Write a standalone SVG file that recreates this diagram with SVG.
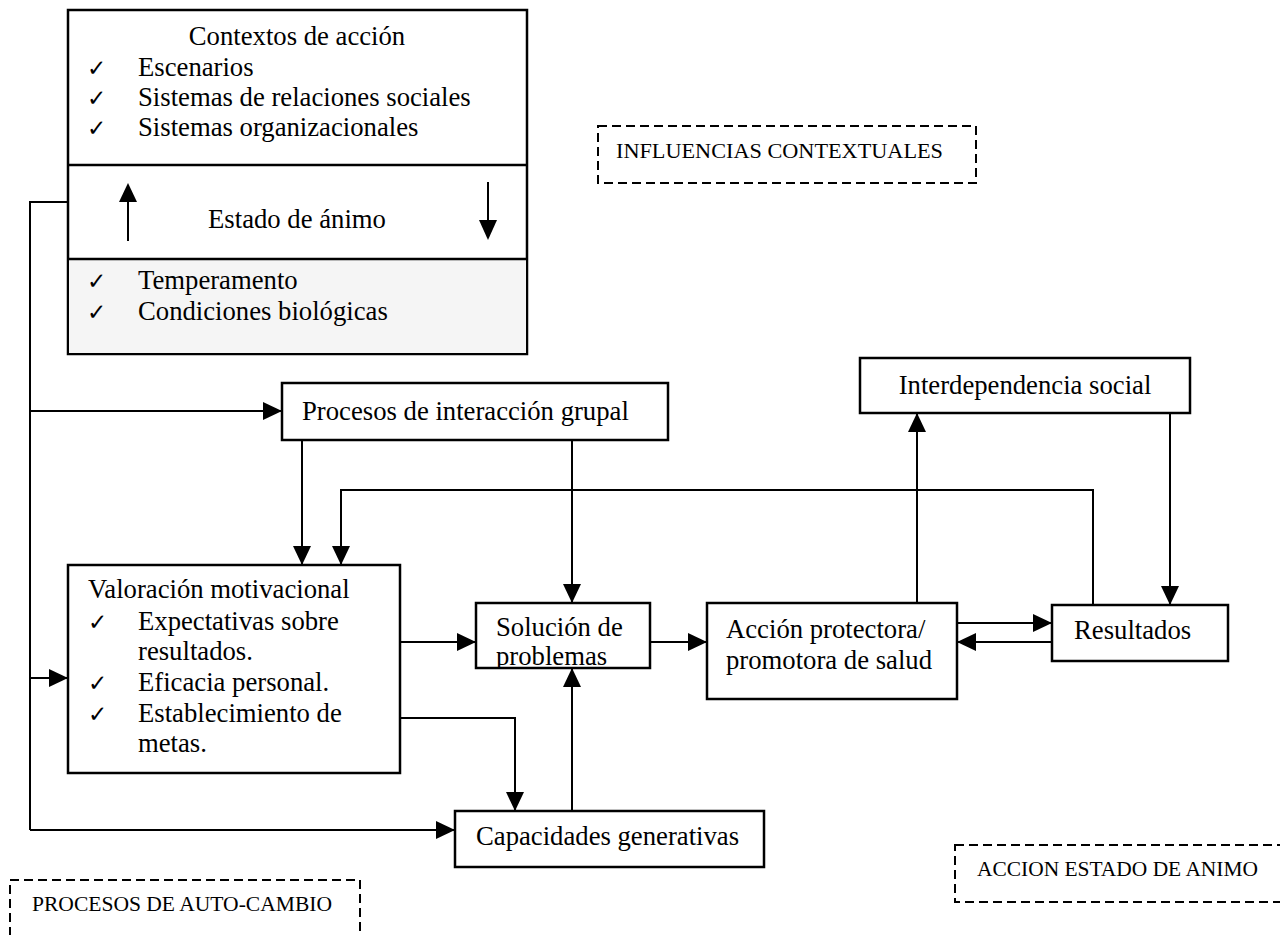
<svg xmlns="http://www.w3.org/2000/svg" width="1280" height="935" viewBox="0 0 1280 935">
<style>
.box{fill:#fff;stroke:#000;stroke-width:2.5}
.t{font-family:"Liberation Serif","Times New Roman",serif;font-size:26.7px;fill:#000}
.ck{font-family:"DejaVu Sans",sans-serif;font-size:23px;fill:#000}
.lbl{font-family:"Liberation Serif","Times New Roman",serif;font-size:20px;fill:#000}
.dash{fill:none;stroke:#000;stroke-width:2;stroke-dasharray:9 5}
.c{fill:none;stroke:#000;stroke-width:2}
.ca{fill:none;stroke:#000;stroke-width:2;marker-end:url(#ah)}
</style>
<defs>
<marker id="ah" markerUnits="userSpaceOnUse" markerWidth="20" markerHeight="18" refX="19" refY="9" orient="auto">
<path d="M0,0 L19,9 L0,18 z" fill="#000"/>
</marker>
<clipPath id="solclip"><rect x="476" y="603" width="174" height="64"/></clipPath>
</defs>
<rect width="1280" height="935" fill="#fff"/>

<g id="contextos">
<rect class="box" x="68" y="10" width="459" height="344"/>
<rect x="69" y="260" width="457" height="93" fill="#f5f5f5"/>
<line x1="68" y1="165" x2="527" y2="165" stroke="#000" stroke-width="2.5"/>
<line x1="68" y1="259" x2="527" y2="259" stroke="#000" stroke-width="2.5"/>
<text class="t" x="297" y="45" text-anchor="middle">Contextos de acción</text>
<text class="ck" x="87" y="76">✓</text><text class="t" x="138" y="76">Escenarios</text>
<text class="ck" x="87" y="106">✓</text><text class="t" x="138" y="106">Sistemas de relaciones sociales</text>
<text class="ck" x="87" y="136">✓</text><text class="t" x="138" y="136">Sistemas organizacionales</text>
<text class="t" x="297" y="228" text-anchor="middle">Estado de ánimo</text>
<line x1="128" y1="241" x2="128" y2="200" stroke="#000" stroke-width="2"/>
<path d="M119,202 L128,183 L137,202 z" fill="#000"/>
<line x1="488" y1="182" x2="488" y2="222" stroke="#000" stroke-width="2"/>
<path d="M479,220 L488,240 L497,220 z" fill="#000"/>
<text class="ck" x="87" y="289">✓</text><text class="t" x="138" y="289">Temperamento</text>
<text class="ck" x="87" y="320">✓</text><text class="t" x="138" y="320">Condiciones biológicas</text>
</g>

<g id="influencias">
<rect class="dash" x="598" y="126" width="378" height="57"/>
<text class="lbl" x="616" y="158" textLength="327" lengthAdjust="spacingAndGlyphs">INFLUENCIAS CONTEXTUALES</text>
</g>

<g id="interdependencia">
<rect class="box" x="860" y="358" width="330" height="55"/>
<text class="t" x="1025" y="394" text-anchor="middle">Interdependencia social</text>
</g>

<g id="procesos">
<rect class="box" x="282" y="383" width="386" height="57"/>
<text class="t" x="302" y="420">Procesos de interacción grupal</text>
</g>

<g id="valoracion">
<rect class="box" x="68" y="565" width="332" height="208"/>
<text class="t" x="88" y="598">Valoración motivacional</text>
<text class="ck" x="88" y="630">✓</text><text class="t" x="138" y="630">Expectativas sobre</text>
<text class="t" x="138" y="660">resultados.</text>
<text class="ck" x="88" y="691">✓</text><text class="t" x="138" y="691">Eficacia personal.</text>
<text class="ck" x="88" y="722">✓</text><text class="t" x="138" y="722">Establecimiento de</text>
<text class="t" x="138" y="752">metas.</text>
</g>

<g id="solucion">
<rect class="box" x="476" y="603" width="174" height="65"/>
<g clip-path="url(#solclip)">
<text class="t" x="496" y="636">Solución de</text>
<text class="t" x="496" y="665">problemas</text>
</g>
</g>

<g id="accion">
<rect class="box" x="707" y="603" width="250" height="96"/>
<text class="t" x="726" y="638">Acción protectora/</text>
<text class="t" x="726" y="669">promotora de salud</text>
</g>

<g id="resultados">
<rect class="box" x="1052" y="605" width="176" height="56"/>
<text class="t" x="1074" y="639">Resultados</text>
</g>

<g id="capacidades">
<rect class="box" x="455" y="811" width="309" height="56"/>
<text class="t" x="476" y="845">Capacidades generativas</text>
</g>

<g id="autocambio">
<rect class="dash" x="10" y="880" width="350" height="70"/>
<text class="lbl" x="32" y="911" textLength="300" lengthAdjust="spacingAndGlyphs">PROCESOS DE AUTO-CAMBIO</text>
</g>

<g id="accionanimo">
<rect class="dash" x="955" y="845" width="345" height="57"/>
<text class="lbl" x="977" y="876" textLength="281" lengthAdjust="spacingAndGlyphs">ACCION ESTADO DE ANIMO</text>
</g>

<g id="connectors">
<polyline class="c" points="68,202 30,202 30,830"/>
<line class="ca" x1="30" y1="411" x2="282" y2="411"/>
<line class="ca" x1="30" y1="678" x2="68" y2="678"/>
<line class="ca" x1="30" y1="830" x2="455" y2="830"/>
<line class="ca" x1="302" y1="440" x2="302" y2="565"/>
<line class="ca" x1="572" y1="440" x2="572" y2="603"/>
<polyline class="ca" points="1093,605 1093,490 341,490 341,565"/>
<line class="ca" x1="917" y1="603" x2="917" y2="413"/>
<line class="ca" x1="1170" y1="413" x2="1170" y2="605"/>
<line class="ca" x1="400" y1="642" x2="476" y2="642"/>
<line class="ca" x1="650" y1="642" x2="707" y2="642"/>
<line class="ca" x1="957" y1="623" x2="1052" y2="623"/>
<line class="ca" x1="1052" y1="642" x2="957" y2="642"/>
<polyline class="ca" points="400,718 515,718 515,811"/>
<line class="ca" x1="572" y1="811" x2="572" y2="668"/>
</g>
</svg>
